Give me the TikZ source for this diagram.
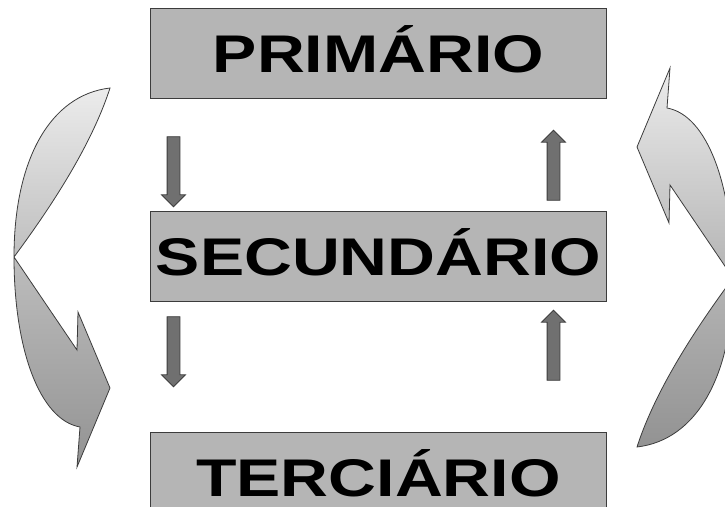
\documentclass[tikz,border=0pt]{standalone}
\usepackage{fontspec}
\setmainfont{Liberation Sans}
\usepackage{graphicx}
\usetikzlibrary{positioning,calc,shapes.arrows}
\definecolor{boxgray}{RGB}{181,181,181}
\definecolor{arrowgray}{RGB}{112,112,112}
\definecolor{edgegray}{RGB}{60,60,60}

\begin{document}
\begin{tikzpicture}[x=1pt,y=-1pt,node distance=112pt]
    \tikzstyle{sector}=[draw=edgegray,fill=boxgray,line width=1pt,minimum width=456pt,minimum height=90pt,inner sep=0pt,text height=38pt,text depth=0pt,font=\bfseries\fontsize{53}{60}\selectfont]
    \tikzstyle{smallarr}=[single arrow,draw=edgegray,fill=arrowgray,line width=0.8pt,minimum height=70pt,minimum width=23pt,single arrow head extend=5.5pt,single arrow head indent=0pt,inner sep=6pt]
    \tikzstyle{ribbon}=[draw=edgegray,line width=0.8pt,top color=gray!15,bottom color=gray!85,middle color=gray!55]
    \useasboundingbox (0,0) rectangle (725,506);
    \clip (0,0) rectangle (725,506);
    \node[sector] (prim) at (378.5,53) {\scalebox{1.25}[1]{PRIMÁRIO}};
    \node[sector] (sec) [below=of prim] {\scalebox{1.25}[1]{SECUNDÁRIO}};
    \node[sector] (ter) [below=130pt of sec] {\scalebox{1.25}[1]{TERCIÁRIO}};
    \node[smallarr,shape border rotate=270] (d1) at ($(prim.south west)+(23.5,70)$) {};
    \node[smallarr,shape border rotate=270] (d2) at ($(sec.south west)+(23.5,47)$) {};
    \node[smallarr,shape border rotate=90] (u1) at ($(prim.south east)+(-53.5,70)$) {};
    \node[smallarr,shape border rotate=90] (u2) at ($(sec.south east)+(-53.5,47)$) {};
    % left ribbon arrow
    \path[ribbon] (110,88) .. controls (50,95) and (14,160) .. (14,257)
        .. controls (14,350) and (40,420) .. (80,427) -- (77,467) -- (110,388)
        -- (78,312) -- (77,350) -- (14,257)
        .. controls (45,215) and (90,150) .. (110,88) -- cycle;
    % right ribbon arrow
    \path[ribbon] (637,447) .. controls (697,440) and (733,375) .. (733,278)
        .. controls (733,185) and (707,115) .. (667,108) -- (670,68) -- (637,147)
        -- (669,223) -- (670,185) -- (733,278)
        .. controls (702,320) and (657,385) .. (637,447) -- cycle;
\end{tikzpicture}
\end{document}
